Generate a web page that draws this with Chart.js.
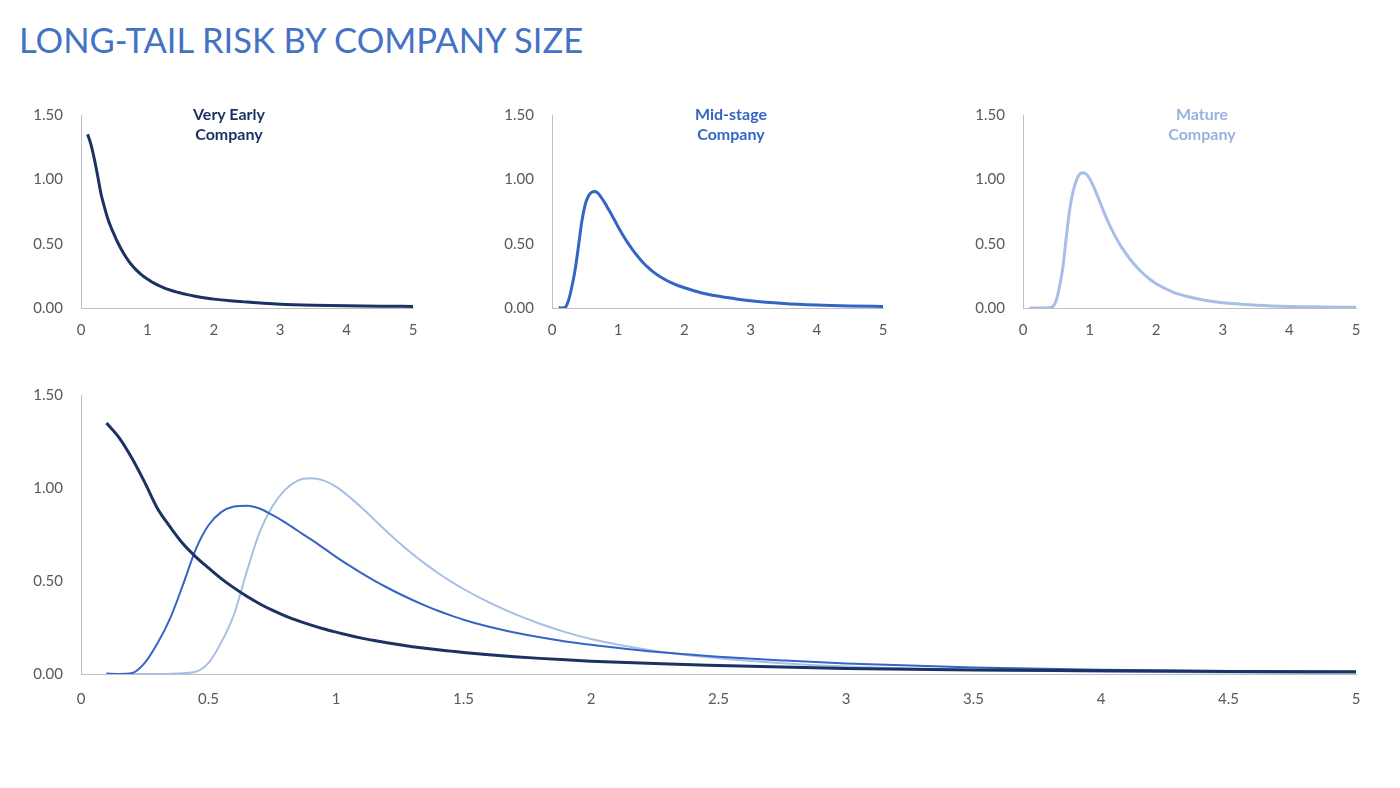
<!DOCTYPE html>
<html>
<head>
<meta charset="utf-8">
<script src="https://cdn.jsdelivr.net/npm/chart.js@4.4.1/dist/chart.umd.min.js"></script>
<style>
    body {
        margin: 0;
        background: #ffffff;
        font-family: 'Lato', sans-serif;
    }
    .page {
        position: relative;
        width: 1400px;
        height: 788px;
        overflow: hidden;
    }
    h1 {
        position: absolute;
        left: 19px;
        top: 19px;
        margin: 0;
        font-weight: 400;
        font-size: 34.5px;
        color: #4472C4;
        white-space: nowrap;
    }
    .box {
        position: absolute;
    }
    .label {
        position: absolute;
        font-weight: 700;
        font-size: 16px;
        line-height: 20px;
        text-align: center;
        width: 140px;
    }
</style>
</head>
<body>
<div class="page">
    <h1 id="title">LONG-TAIL RISK BY COMPANY SIZE</h1>

    <div class="box" style="left:0px; top:100px;"><canvas id="early" width="420" height="250"></canvas></div>
    <div class="box" style="left:471px; top:100px;"><canvas id="mid" width="420" height="250"></canvas></div>
    <div class="box" style="left:942px; top:100px;"><canvas id="mature" width="421" height="250"></canvas></div>
    <div class="box" style="left:0px; top:380px;"><canvas id="all" width="1380" height="340"></canvas></div>

    <div class="label" style="left:159px; top:104px; color:#1b3263;">Very Early<br>Company</div>
    <div class="label" style="left:661px; top:104px; color:#3565c4;">Mid-stage<br>Company</div>
    <div class="label" style="left:1132px; top:104px; color:#97b2e1;">Mature<br>Company</div>
</div>

<script>
// x positions shared by all three curves
const xValues = [0.1, 0.15, 0.2, 0.25, 0.3, 0.35, 0.4, 0.45, 0.5, 0.55, 0.6, 0.65, 0.7, 0.75, 0.8, 0.85, 0.9, 0.95, 1.0,
    1.05, 1.1, 1.15, 1.2, 1.25, 1.3, 1.35, 1.4, 1.45, 1.5, 1.6, 1.7, 1.8, 1.9, 2.0, 2.25, 2.5, 2.75, 3.0, 3.5, 4.0, 4.5, 5.0];

const veryEarly = [1.35, 1.27, 1.16, 1.03, 0.89, 0.79, 0.70, 0.63, 0.57, 0.513, 0.463, 0.418, 0.378, 0.343, 0.313, 0.287, 0.264, 0.243, 0.225,
    0.208, 0.193, 0.18, 0.168, 0.157, 0.147, 0.138, 0.13, 0.123, 0.116, 0.104, 0.093, 0.084, 0.076, 0.069, 0.056, 0.046, 0.037, 0.030, 0.022, 0.017, 0.014, 0.012];

const midStage = [0.003, 0, 0.005, 0.06, 0.165, 0.30, 0.48, 0.67, 0.80, 0.87, 0.90, 0.905, 0.89, 0.855, 0.815, 0.77, 0.725, 0.678, 0.63,
    0.585, 0.542, 0.502, 0.465, 0.43, 0.398, 0.368, 0.34, 0.315, 0.292, 0.254, 0.223, 0.197, 0.175, 0.157, 0.119, 0.093, 0.073, 0.056, 0.035, 0.023, 0.016, 0.012];

const mature = [0, 0, 0, 0, 0, 0.001, 0.004, 0.012, 0.06, 0.17, 0.32, 0.55, 0.76, 0.90, 0.99, 1.04, 1.052, 1.041, 1.007,
    0.955, 0.895, 0.83, 0.765, 0.703, 0.645, 0.592, 0.543, 0.498, 0.457, 0.385, 0.323, 0.27, 0.225, 0.188, 0.124, 0.085, 0.058, 0.04, 0.022, 0.012, 0.008, 0.005];

const yTicks = [0, 0.5, 1.0, 1.5];

const colors = {
    early: '#1b3263',
    mid: '#3565c4',
    mature: '#a7bfe7'
};

function points(values) {
    return xValues.map((x, i) => ({ x: x, y: values[i] }));
}

function line(label, values, color, width) {
    return {
        label: label,
        data: points(values),
        borderColor: color,
        backgroundColor: color,
        borderWidth: width,
        pointRadius: 0,
        cubicInterpolationMode: 'monotone',
        fill: false
    };
}

const tickFont = { family: 'Lato', size: 15 };

function makeOptions(xStep, xAxisHeight, xPad, padTop, padRight) {
    return {
        responsive: false,
        animation: false,
        layout: {
            padding: { top: padTop, right: padRight, bottom: 0, left: 0 }
        },
        plugins: {
            legend: { display: false },
            tooltip: { enabled: false }
        },
        scales: {
            x: {
                type: 'linear',
                min: 0,
                max: 5,
                grid: { display: false, drawTicks: false },
                border: { display: true, color: '#bfbfbf', width: 1 },
                ticks: {
                    stepSize: xStep,
                    color: '#595959',
                    font: tickFont,
                    padding: xPad,
                    maxRotation: 0,
                    callback: (value) => String(Number(value))
                },
                afterFit: (scale) => {
                    scale.height = xAxisHeight;
                    scale.paddingLeft = 0;
                    scale.paddingRight = 0;
                }
            },
            y: {
                min: 0,
                max: 1.5,
                grid: { display: false, drawTicks: false },
                border: { display: true, color: '#bfbfbf', width: 1 },
                afterBuildTicks: (scale) => {
                    scale.ticks = yTicks.map(v => ({ value: v }));
                },
                ticks: {
                    color: '#595959',
                    font: tickFont,
                    padding: 18,
                    callback: (value) => Number(value).toFixed(2)
                },
                // fixed axis width, and no extra room above the top label
                afterFit: (scale) => {
                    scale.width = 81;
                    scale.paddingTop = 0;
                    scale.paddingBottom = 0;
                }
            }
        }
    };
}

new Chart(document.getElementById('early'), {
    type: 'line',
    data: { datasets: [line('Very Early Company', veryEarly, colors.early, 3)] },
    options: makeOptions(1, 42, 13, 15, 7)
});

new Chart(document.getElementById('mid'), {
    type: 'line',
    data: { datasets: [line('Mid-stage Company', midStage, colors.mid, 3)] },
    options: makeOptions(1, 42, 13, 15, 8)
});

new Chart(document.getElementById('mature'), {
    type: 'line',
    data: { datasets: [line('Mature Company', mature, colors.mature, 3)] },
    options: makeOptions(1, 42, 13, 15, 7)
});

// combined view, dark curve on top
new Chart(document.getElementById('all'), {
    type: 'line',
    data: {
        datasets: [
            line('Very Early Company', veryEarly, colors.early, 3),
            line('Mid-stage Company', midStage, colors.mid, 2),
            line('Mature Company', mature, colors.mature, 2)
        ]
    },
    options: makeOptions(0.5, 46, 16, 15, 24)
});
</script>
</body>
</html>
